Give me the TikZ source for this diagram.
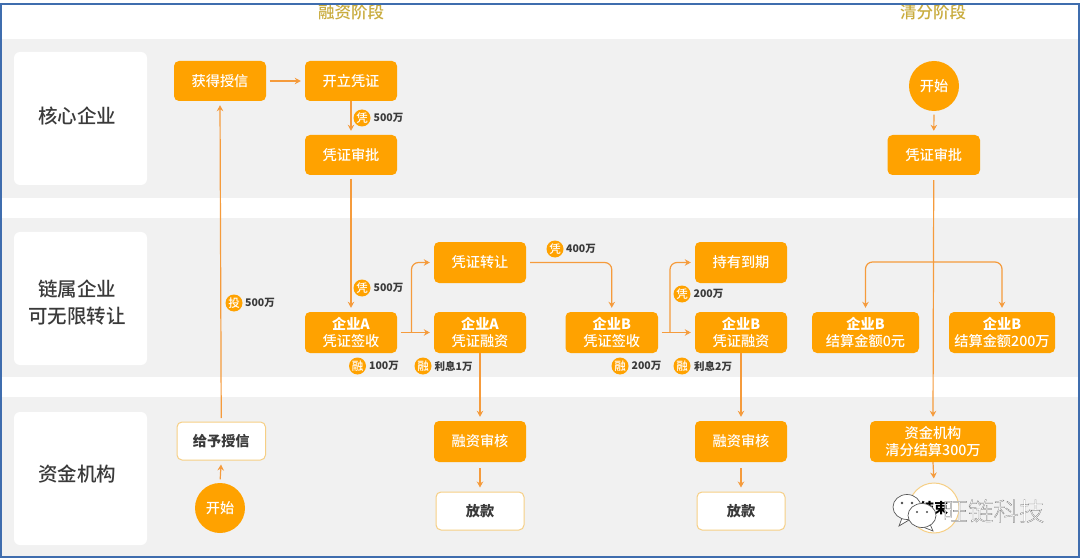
\documentclass[tikz,border=0pt]{standalone}
\usepackage{fontspec}
\usetikzlibrary{arrows.meta}
\setmainfont{Noto Sans CJK SC}
\newfontfamily\medfont{Noto Sans CJK SC Medium}
\newfontfamily\wmfont[FakeBold=0.6]{Noto Sans CJK SC Light}
\definecolor{orangebox}{HTML}{FFA200}
\definecolor{connline}{HTML}{F59B3C}
\definecolor{bandgrey}{HTML}{F1F1F1}
\definecolor{framecol}{HTML}{3F6DAE}
\definecolor{titlecol}{HTML}{C9AC3E}
\definecolor{goldline}{HTML}{F6CF85}
\definecolor{labeltext}{HTML}{3A3A3A}
\tikzset{
  band/.style={fill=bandgrey,draw=none},
  card/.style={fill=white,draw=none,rounded corners=6pt},
  lanelabel/.style={text=labeltext,align=center,font=\medfont\fontsize{19.5}{27}\selectfont},
  phase/.style={text=titlecol,font=\medfont\fontsize{16.5}{20}\selectfont},
  nbox/.style={fill=orangebox,text=white,rounded corners=5pt,inner sep=0pt,align=center,font=\medfont\fontsize{14.2}{17}\selectfont},
  wbox/.style={fill=white,draw=goldline,line width=1pt,text=labeltext,rounded corners=5pt,inner sep=0pt,align=center,font=\fontsize{14.2}{17}\selectfont\bfseries},
  ncirc/.style={circle,fill=orangebox,text=white,inner sep=0pt,minimum size=50pt,font=\medfont\fontsize{14.2}{17}\selectfont},
  wcirc/.style={circle,fill=white,draw=goldline,line width=1pt,text=black,inner sep=0pt,minimum size=50pt,font=\fontsize{14.2}{17}\selectfont\bfseries},
  badge/.style={circle,fill=orangebox,text=white,inner sep=0pt,minimum size=17pt,font=\medfont\fontsize{11.5}{12}\selectfont},
  amount/.style={text=labeltext,anchor=west,inner sep=0pt,font=\fontsize{10.5}{12}\selectfont\bfseries},
  conn/.style={draw=connline,line width=1.2pt,-{Stealth[length=6pt,width=6.5pt]},shorten >=4pt,shorten <=3.5pt},
  connr/.style={conn,rounded corners=7pt,shorten <=0pt},
  wmark/.style={text=white,inner sep=0pt,font=\wmfont\fontsize{25.5}{28}\selectfont},
  bubble/.style={fill=white,draw=black!65,line width=0.7pt}
}
\newcommand{\bx}[7][nbox]{% style,name,x1,y1,x2,y2,text
  \node[#1,minimum width=#5pt-#3pt,minimum height=#6pt-#4pt] (#2) at ({(#3+#5)/2},{(#4+#6)/2}) {#7};}
\begin{document}
\begin{tikzpicture}[x=1pt,y=-1pt]
\useasboundingbox (0,0) rectangle (1080,559);
\fill[white] (0,0) rectangle (1080,559);
% bands
\fill[band] (2,39) rectangle (1078,198);
\fill[band] (2,218) rectangle (1078,377);
\fill[band] (2,397) rectangle (1078,557);
% lane cards
\fill[card] (14,52) rectangle (147,185);
\fill[card] (14,232) rectangle (147,365);
\fill[card] (14,412) rectangle (147,545);
\node[lanelabel] (lane1) at (77,116) {核心企业};
\node[lanelabel] (lane2) at (77,303) {链属企业\\可无限转让};
\node[lanelabel] (lane3) at (77,474) {资金机构};
% phases
\node[phase] (ph1) at (351,12) {融资阶段};
\node[phase] (ph2) at (933,12) {清分阶段};
% boxes
\bx{hd}{174}{61}{266}{101}{获得授信}
\bx{kl}{305}{61}{397}{101}{开立凭证}
\bx{sp}{305}{135}{397}{175}{凭证审批}
\bx{zr}{434}{242}{526}{283}{凭证转让}
\bx{qa}{305}{312}{397}{353}{\textbf{企业A}\\凭证签收}
\bx{ra}{434}{312}{526}{353}{\textbf{企业A}\\凭证融资}
\bx[wbox]{gy}{177}{422}{265.5}{460}{给予授信}
\bx{sa}{434}{421}{526}{462}{融资审核}
\bx[wbox]{fa}{436}{492}{524}{530}{放款}
\bx{qb}{565.5}{312}{658}{353}{\textbf{企业B}\\凭证签收}
\bx{rb}{695}{312}{787}{353}{\textbf{企业B}\\凭证融资}
\bx{cy}{695}{242}{787}{283}{持有到期}
\bx{sb}{695}{421}{787}{462}{融资审核}
\bx[wbox]{fb}{697}{492}{785}{530}{放款}
\bx{spb}{887.5}{135}{980}{175}{凭证审批}
\bx{jz}{812}{312}{919}{353}{\textbf{企业B}\\结算金额0元}
\bx{je}{949}{312}{1055}{353}{\textbf{企业B}\\结算金额200万}
\bx{qs}{870}{421}{996}{462}{资金机构\\清分结算300万}
\node[ncirc] (st1) at (220,508) {开始};
\node[ncirc] (st2) at (934,86) {开始};
\node[wcirc] (ed) at (934,508) {结束};
% junctions
\coordinate (ja) at (411.5,332.5);
\coordinate (jb) at (670,332.5);
\coordinate (jc) at (934,262);
% connectors
\draw[conn] (hd.east) -- (kl.west);
\draw[conn,shorten <=0pt] (kl.south) -- (sp.north);
\draw[conn] (sp.south) -- (qa.north);
\draw[conn] (qa.east) -- (ra.west);
\draw[connr] (ja) |- (zr.west);
\draw[conn] (st1.north) -- (gy.south);
\draw[conn] (gy.north) -- (hd.south);
\draw[conn,shorten <=0pt] (ra.south) -- (sa.north);
\draw[conn,shorten <=6pt] (sa.south) -- (fa.north);
\draw[connr,shorten >=4pt] (zr.east) ++(4,0) -| (qb.north);
\draw[conn] (qb.east) -- (rb.west);
\draw[connr] (jb) |- (cy.west);
\draw[conn,shorten <=0pt] (rb.south) -- (sb.north);
\draw[conn,shorten <=6pt] (sb.south) -- (fb.north);
\draw[conn] (st2.south) -- (spb.north);
\draw[conn,shorten <=5pt] (spb.south) -- (qs.north);
\draw[connr] (jc) -| (jz.north);
\draw[connr] (jc) -| (je.north);
\draw[conn,shorten <=0pt] (qs.south) -- (ed.north);
% badges
\node[badge] (b1) at (362,118) {凭}; \node[amount] (a1) at (373.5,118) {500万};
\node[badge] (b2) at (362,288) {凭}; \node[amount] (a2) at (373.5,288) {500万};
\node[badge] (b3) at (234,303) {投}; \node[amount] (a3) at (245,303) {500万};
\node[badge] (b4) at (357.5,366) {融}; \node[amount] (a4) at (369,366) {100万};
\node[badge] (b5) at (423,366) {融}; \node[amount] (a5) at (434.5,366) {利息1万};
\node[badge] (b6) at (555,249) {凭}; \node[amount] (a6) at (566,249) {400万};
\node[badge] (b7) at (682,294) {凭}; \node[amount] (a7) at (693.5,294) {200万};
\node[badge] (b8) at (620,366) {融}; \node[amount] (a8) at (631.5,366) {200万};
\node[badge] (b9) at (682,366) {融}; \node[amount] (a9) at (694,366) {利息2万};
% watermark: speech bubbles
\draw[bubble] (902,518) -- (899,526) -- (909,520);
\draw[bubble] (907,507) ellipse (14pt and 12.5pt);
\fill[black!70] (902,503) circle (1.3pt) (912,503) circle (1.3pt);
\draw[bubble] (930,524) -- (933,531) -- (923,527);
\draw[bubble] (922,515.5) ellipse (14pt and 12pt);
\fill[black!70] (917,512) circle (1.2pt) (927,512) circle (1.2pt);
\node[wmark] (wm) at (993.5,511) {\special{pdf:code 0.3 0.3 0.3 RG}旺链科技};
% frame
\draw[framecol,line width=1.6pt] (1,4) rectangle (1079,557);
\end{tikzpicture}
\end{document}
